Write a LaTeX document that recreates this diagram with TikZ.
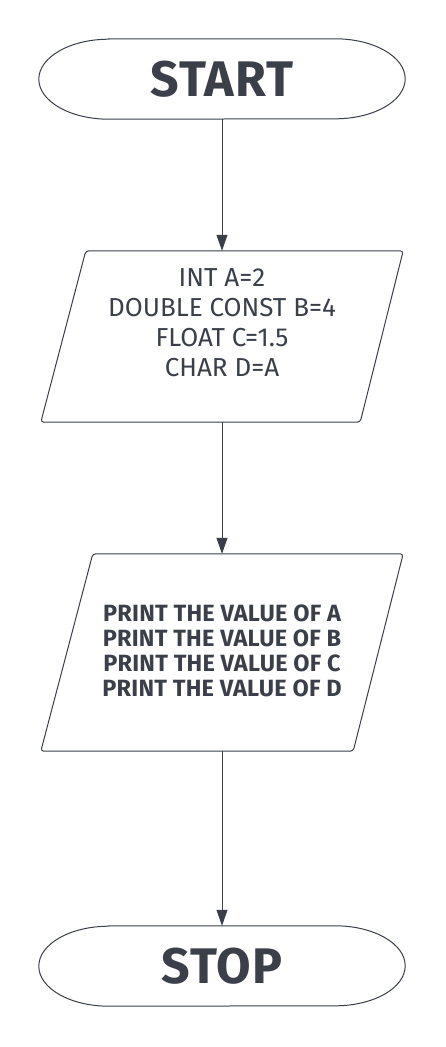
\documentclass[tikz,border=0pt]{standalone}
\usepackage{fontspec}
\setmainfont{Fira Sans}
\newfontfamily\headfont{Fira Sans}[LetterSpace=2]
\newfontfamily\printfont{Fira Sans}[LetterSpace=1]
\usetikzlibrary{arrows.meta}
\definecolor{ink}{HTML}{3A3F4A}
\tikzset{
  outline/.style={draw=ink, line width=1pt},
  conn/.style={draw=ink, line width=1pt, -{Triangle[length=16pt,width=11pt]}},
  term/.style={minimum width=366pt, minimum height=80pt, inner sep=0pt, text=ink,
    font=\headfont\bfseries\fontsize{50}{50}\selectfont},
  iobox/.style={minimum width=362pt, inner sep=0pt},
  iotext/.style={align=center, inner sep=0pt, text=ink},
}
\begin{document}
\begin{tikzpicture}[x=1pt,y=-1pt]
\useasboundingbox (0,0) rectangle (445,1047);
\fill[white] (0,0) rectangle (445,1047);

% START
\node[term] (start) at (222,79) {START};
\draw[outline] ([xshift=70pt]start.north west) -- ([xshift=-70pt]start.north east)
  arc[start angle=90,end angle=-90,x radius=70pt,y radius=40pt]
  -- ([xshift=70pt]start.south west)
  arc[start angle=270,end angle=90,x radius=70pt,y radius=40pt] -- cycle;

% declarations
\node[iobox, minimum height=171pt] (p1) at (222,336.5) {};
\draw[outline, rounded corners=3pt] ([xshift=45pt]p1.north west) -- (p1.north east)
  -- ([xshift=-43pt]p1.south east) -- (p1.south west) -- cycle;
\node[iotext, font=\fontsize{26}{30}\selectfont] (p1text) at (222,323)
  {INT A=2\\DOUBLE CONST B=4\\FLOAT C=1.5\\CHAR D=A};

% prints
\node[iobox, minimum height=197pt] (p2) at (222,652.5) {};
\draw[outline, rounded corners=3pt] ([xshift=52pt]p2.north west) -- (p2.north east)
  -- ([xshift=-50pt]p2.south east) -- (p2.south west) -- cycle;
\node[iotext, font=\printfont\bfseries\fontsize{23.5}{25}\selectfont] (p2text) at (222,651)
  {PRINT THE VALUE OF A\\PRINT THE VALUE OF B\\PRINT THE VALUE OF C\\PRINT THE VALUE OF D};

% STOP
\node[term] (stop) at (222,966) {STOP};
\draw[outline] ([xshift=70pt]stop.north west) -- ([xshift=-70pt]stop.north east)
  arc[start angle=90,end angle=-90,x radius=70pt,y radius=40pt]
  -- ([xshift=70pt]stop.south west)
  arc[start angle=270,end angle=90,x radius=70pt,y radius=40pt] -- cycle;

% connectors
\draw[conn] (start.south) -- (p1.north);
\draw[conn] (p1.south) -- (p2.north);
\draw[conn] (p2.south) -- (stop.north);
\end{tikzpicture}
\end{document}
